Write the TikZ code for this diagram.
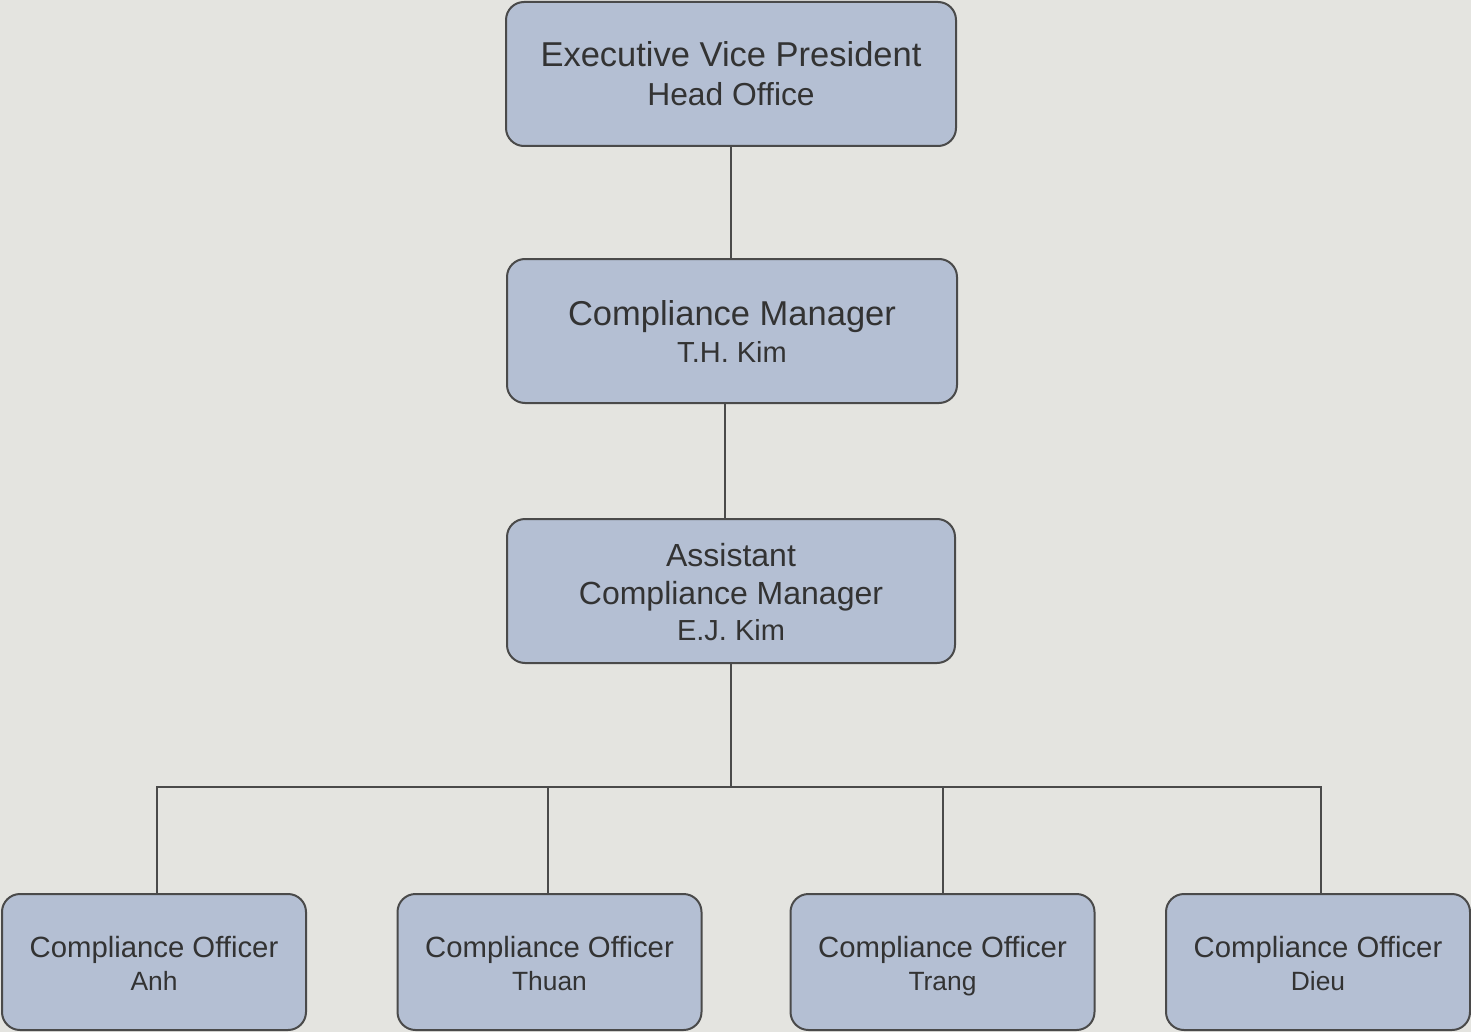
\documentclass[tikz,border=0pt]{standalone}
\usepackage{fontspec}
\setmainfont{Liberation Sans}
\definecolor{bg}{HTML}{E4E4E0}
\definecolor{boxfill}{HTML}{B4BFD3}
\definecolor{boxline}{HTML}{4A4A4A}
\definecolor{txt}{HTML}{333333}
\newcommand\rowstrut[2]{\rule[-#2pt]{0pt}{\dimexpr#1pt+#2pt\relax}}
\newcommand\fs[1]{\fontsize{#1}{#1}\selectfont}
\begin{document}
\begin{tikzpicture}[x=1pt,y=-1pt,
  orgbox/.style={draw=boxline,fill=boxfill,line width=2pt,rounded corners=18pt,
    text=txt,align=center,inner sep=0pt},
  topbox/.style={orgbox,minimum width=450pt,minimum height=144pt},
  botbox/.style={orgbox,minimum width=304pt,minimum height=136pt,
    font=\fontsize{29.3}{33}\selectfont},
  link/.style={draw=boxline,line width=2pt}]
\fill[bg] (0,0) rectangle (1471,1032);
\useasboundingbox (0,0) rectangle (1471,1032);

\node[topbox,font=\fontsize{34.5}{38.7}\selectfont] (evp) at (731,74)
  {\rowstrut{26}{2}\fs{34.5}Executive Vice President\\\rowstrut{26}{2}\fs{31.8}Head Office};
\node[topbox,font=\fontsize{34.5}{37}\selectfont] (cm) at (732,331)
  {\rowstrut{28}{2.2}\fs{34.5}Compliance Manager\\\rowstrut{28}{2.2}\fs{29}T.H. Kim};
\node[orgbox,minimum width=448pt,minimum height=144pt,font=\fontsize{32}{35.5}\selectfont] (acm) at (731,591)
  {\rowstrut{26}{2}\fs{32}Assistant\\[3pt]\rowstrut{26}{2}\fs{32}Compliance Manager\\\rowstrut{26}{2}\fs{29}E.J. Kim};

\node[botbox] (anh) at (154,962) {\rowstrut{30}{0}\fs{29.3}Compliance Officer\\\rowstrut{0}{6}\fs{26.4}Anh};
\node[botbox] (thuan) at (549.5,962) {\rowstrut{30}{0}\fs{29.3}Compliance Officer\\\rowstrut{0}{6}\fs{26.4}Thuan};
\node[botbox] (trang) at (942.5,962) {\rowstrut{30}{0}\fs{29.3}Compliance Officer\\\rowstrut{0}{6}\fs{26.4}Trang};
\node[botbox] (dieu) at (1318,962) {\rowstrut{30}{0}\fs{29.3}Compliance Officer\\\rowstrut{0}{6}\fs{26.4}Dieu};

\coordinate (bus) at (731,787);

\draw[link] (evp.south) -- ([xshift=-1pt]cm.north);
\draw[link] ([xshift=-7pt]cm.south) -- ([xshift=-6pt]acm.north);
\draw[link] (acm.south) -- (bus);
\draw[link] ([xshift=3pt]anh.north) -- ([xshift=3pt]anh.north |- bus) -- ([xshift=3pt]dieu.north |- bus) -- ([xshift=3pt]dieu.north);
\draw[link] ([xshift=-1.5pt]thuan.north) -- ([xshift=-1.5pt]thuan.north |- bus);
\draw[link] ([xshift=0.5pt]trang.north) -- ([xshift=0.5pt]trang.north |- bus);
\end{tikzpicture}
\end{document}
